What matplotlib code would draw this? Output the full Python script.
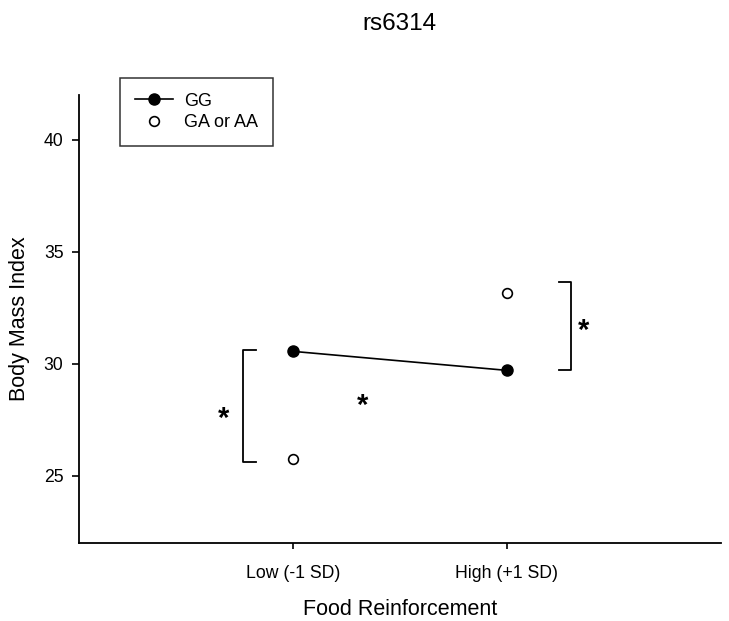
import matplotlib
matplotlib.use("Agg")
import matplotlib.pyplot as plt

plt.rcParams['font.family'] = ['Liberation Sans', 'DejaVu Sans']

# data
levels = ["Low (-1 SD)", "High (+1 SD)"]
x_pos = [1, 2]
gg = [30.55, 29.7]
ga_aa = [25.75, 33.15]

fig = plt.figure(figsize=(7.29, 6.21), dpi=100)
ax = fig.add_axes([0.108, 0.126, 0.881, 0.721])

ax.plot(x_pos, gg, color="black", lw=1.2, marker="o", ms=8,
        mfc="black", mec="black", label="GG")
ax.plot(x_pos, ga_aa, ls="none", marker="o", ms=7,
        mfc="white", mec="black", mew=1.2, label="GA or AA")

# significance brackets
ax.plot([0.83, 0.765, 0.765, 0.83], [30.6, 30.6, 25.6, 25.6], color="black", lw=1.3)
ax.plot([2.245, 2.3, 2.3, 2.245], [33.65, 33.65, 29.73, 29.73], color="black", lw=1.3)
ax.text(0.675, 27.55, "*", fontsize=21, fontweight="bold", ha="center", va="center")
ax.text(1.325, 28.1, "*", fontsize=21, fontweight="bold", ha="center", va="center")
ax.text(2.36, 31.45, "*", fontsize=21, fontweight="bold", ha="center", va="center")

ax.set_xlim(0, 3)
ax.set_ylim(22, 42)
ax.set_xticks(x_pos)
ax.set_xticklabels(levels)
ax.set_yticks([25, 30, 35, 40])
ax.tick_params(labelsize=12.7, length=5, width=1.2, pad=6)
ax.tick_params(axis="x", length=4, pad=12)
for s in ["top", "right"]:
    ax.spines[s].set_visible(False)
for s in ["left", "bottom"]:
    ax.spines[s].set_linewidth(1.3)

ax.set_xlabel("Food Reinforcement", fontsize=15.5, labelpad=12)
ax.set_ylabel("Body Mass Index", fontsize=15.5, labelpad=10)
fig.text(0.548, 0.962, "rs6314", fontsize=17.5, ha="center", va="center")

leg = ax.legend(loc="upper left", bbox_to_anchor=(0.065, 1.038), borderaxespad=0,
                fontsize=13, frameon=True, fancybox=False, edgecolor="black",
                handlelength=2.1, handletextpad=0.6, borderpad=0.82,
                labelspacing=0.25)
leg.get_frame().set_linewidth(1.1)

fig.savefig("out.png", dpi=100)
